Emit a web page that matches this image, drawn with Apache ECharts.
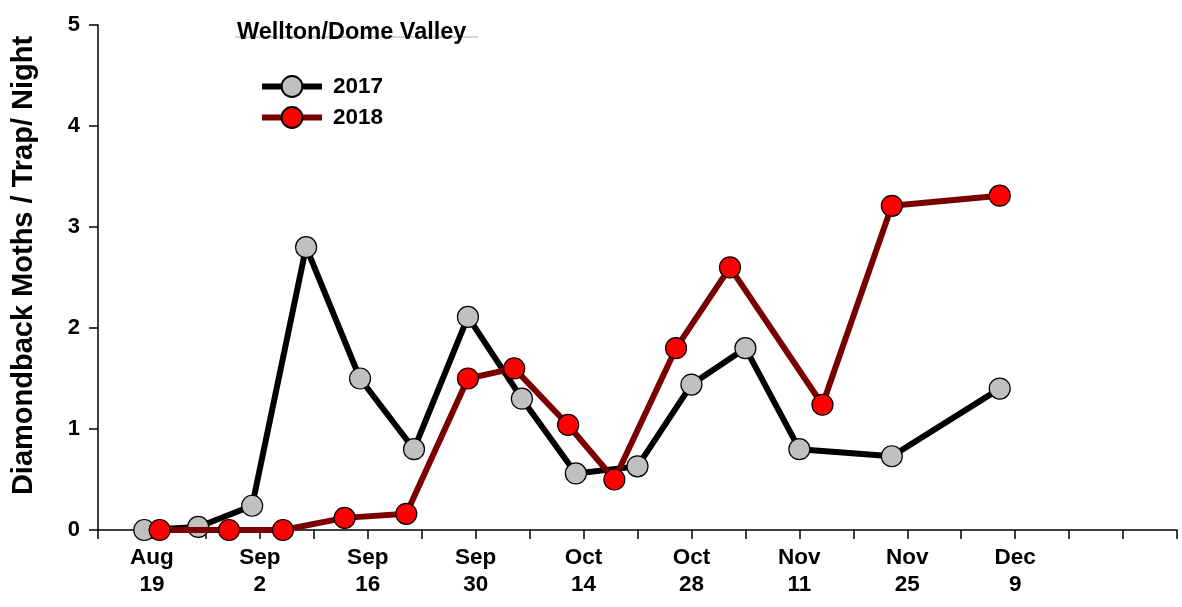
<!DOCTYPE html>
<html>
<head>
<meta charset="utf-8">
<script src="https://cdn.jsdelivr.net/npm/echarts@6/dist/echarts.min.js"></script>
<style>
  html, body { margin: 0; padding: 0; background: #fff; }
  #chart { width: 1182px; height: 607px; }
</style>
</head>
<body>
<div id="chart"></div>
<script>
// sample dates (month-day) and moths per trap per night
const dates2017 = ['08-18', '08-25', '09-01', '09-08', '09-15', '09-22', '09-29', '10-06',
  '10-13', '10-21', '10-28', '11-04', '11-11', '11-23', '12-07'];
const values2017 = [0, 0.03, 0.24, 2.8, 1.5, 0.8, 2.11, 1.3, 0.56, 0.63, 1.44, 1.8, 0.8, 0.73, 1.4];

const dates2018 = ['08-20', '08-29', '09-05', '09-13', '09-21', '09-29', '10-05', '10-12',
  '10-18', '10-26', '11-02', '11-14', '11-23', '12-07'];
const values2018 = [0, 0, 0, 0.12, 0.16, 1.5, 1.6, 1.04, 0.5, 1.8, 2.6, 1.24, 3.21, 3.31];

// x axis runs in days from Aug 12, labels every other weekly tick
const tickLabels = ['Aug\n19', 'Sep\n2', 'Sep\n16', 'Sep\n30', 'Oct\n14', 'Oct\n28', 'Nov\n11', 'Nov\n25', 'Dec\n9'];
const axisDays = 140;

const font = '"Liberation Sans", Arial, sans-serif';

function dayOffset(md) {
  const parts = md.split('-');
  const t = Date.UTC(2017, Number(parts[0]) - 1, Number(parts[1]));
  return Math.round((t - Date.UTC(2017, 7, 12)) / 86400000);
}

function toPoints(dates, values) {
  return dates.map((d, i) => [dayOffset(d), values[i]]);
}

const chart = echarts.init(document.getElementById('chart'));

chart.setOption({
  animation: false,
  backgroundColor: '#fff',
  textStyle: { fontFamily: font },
  title: {
    text: 'Wellton/Dome Valley',
    left: 237,
    top: 21,
    padding: 0,
    textStyle: { fontFamily: font, fontSize: 23.5, fontWeight: 'bold', color: '#000' }
  },
  legend: {
    orient: 'vertical',
    left: 259,
    top: 75,
    padding: 0,
    itemWidth: 60,
    itemHeight: 26,
    itemGap: 8,
    lineStyle: { width: 6 },
    textStyle: { fontFamily: font, fontSize: 22.5, fontWeight: 'bold', color: '#000', padding: [0, 0, 0, 6] },
    data: ['2017', '2018']
  },
  graphic: [{
    type: 'line',
    shape: { x1: 235, y1: 37, x2: 478, y2: 37 },
    style: { stroke: '#aaa', lineWidth: 1 },
    z: -1
  }],
  grid: { left: 98, right: 5, top: 25, bottom: 77, containLabel: false },
  xAxis: {
    type: 'value',
    min: 0,
    max: axisDays,
    interval: 7,
    splitLine: { show: false },
    axisLine: { onZero: false, lineStyle: { color: '#000', width: 1.5 } },
    axisTick: { length: 9, lineStyle: { color: '#000', width: 1.5 } },
    axisLabel: {
      margin: 14,
      fontSize: 22.5,
      fontWeight: 'bold',
      lineHeight: 27,
      color: '#000',
      fontFamily: font,
      showMinLabel: true,
      showMaxLabel: true,
      formatter: function (v) {
        const k = v / 7;
        if (k % 2 !== 1) return '';
        return tickLabels[(k - 1) / 2] || '';
      }
    }
  },
  yAxis: {
    type: 'value',
    min: 0,
    max: 5,
    interval: 1,
    name: 'Diamondback Moths / Trap/ Night',
    nameLocation: 'middle',
    nameGap: 60,
    nameTextStyle: {
      fontFamily: font, fontSize: 29, fontWeight: 'bold', color: '#000',
      padding: [0, 0, 0, 24]
    },
    splitLine: { show: false },
    axisLine: { show: true, lineStyle: { color: '#000', width: 1.5 } },
    axisTick: { show: true, length: 9, lineStyle: { color: '#000', width: 1.5 } },
    axisLabel: { margin: 18, fontSize: 22, fontWeight: 'bold', color: '#000', fontFamily: font }
  },
  series: [
    {
      name: '2017',
      type: 'line',
      data: toPoints(dates2017, values2017),
      symbol: 'circle',
      symbolSize: 21,
      lineStyle: { color: '#000', width: 6 },
      itemStyle: { color: '#c0c0c0', borderColor: '#000', borderWidth: 1.2 },
      z: 2
    },
    {
      name: '2018',
      type: 'line',
      data: toPoints(dates2018, values2018),
      symbol: 'circle',
      symbolSize: 21,
      lineStyle: { color: '#7a0000', width: 6 },
      itemStyle: { color: '#ff0000', borderColor: '#000', borderWidth: 1.2 },
      z: 3
    }
  ]
});
</script>
</body>
</html>
